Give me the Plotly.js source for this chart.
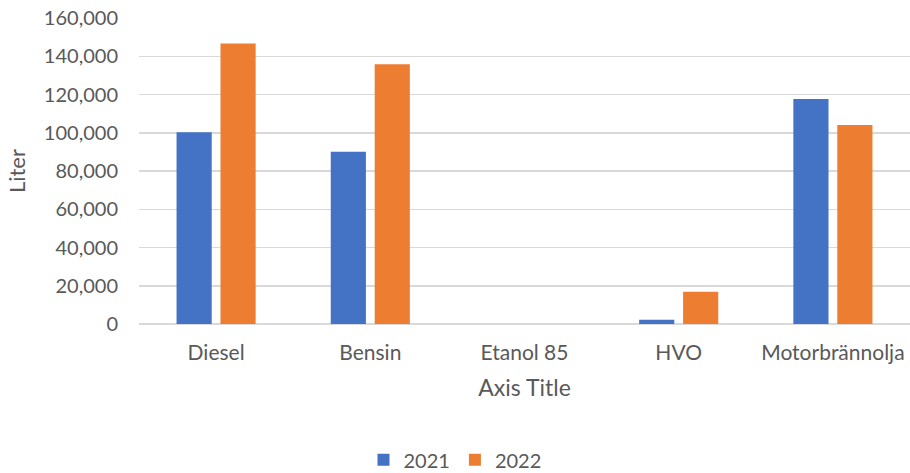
<!DOCTYPE html>
<html>
<head>
<meta charset="utf-8">
<script src="https://cdn.plot.ly/plotly-3.0.1.min.js"></script>
<style>html,body{margin:0;padding:0;background:#fff;}#chart{width:910px;height:473px;}</style>
</head>
<body>
<div id="chart"></div>
<script>
const categories = ["Diesel", "Bensin", "Etanol 85", "HVO", "Motorbrännolja"];
const values2021 = [100300, 90100, 0, 2200, 117600];
const values2022 = [146700, 135800, 0, 16900, 104100];
const seriesNames = ["2021", "2022"];
const yTickVals = [0, 20000, 40000, 60000, 80000, 100000, 120000, 140000, 160000];

const fontFam = "Lato, 'Open Sans', sans-serif";
const txt = "#595959";

const traces = [
  {type: "bar", name: seriesNames[0], x: categories, y: values2021, marker: {color: "#4472C4"}, hoverinfo: "none"},
  {type: "bar", name: seriesNames[1], x: categories, y: values2022, marker: {color: "#ED7D31"}, hoverinfo: "none"}
];

const layout = {
  width: 910, height: 473,
  margin: {l: 139, r: 0, t: 18, b: 149, pad: 0},
  paper_bgcolor: "#fff", plot_bgcolor: "#fff",
  font: {family: fontFam, color: txt, size: 19},
  barmode: "group",
  bargap: 0.43,
  bargroupgap: 0.2,
  showlegend: true,
  legend: {orientation: "h", xref: "container", yref: "container", x: 0.5, xanchor: "center", y: 0.028, yanchor: "middle", font: {size: 20, color: txt}},
  xaxis: {
    type: "category",
    showgrid: false, showline: false, zeroline: false,
    ticks: "", tickfont: {size: 21, color: txt},
    ticklabelstandoff: 14,
    title: {text: "Axis Title", font: {size: 23, color: txt}, standoff: 16}
  },
  yaxis: {
    range: [0, 160000],
    tickvals: yTickVals,
    tickformat: ",d",
    showgrid: true, gridcolor: "#d9d9d9", gridwidth: 1.5,
    zeroline: true, zerolinecolor: "#d9d9d9", zerolinewidth: 1.5,
    showline: false, ticks: "",
    ticklabelstandoff: 20,
    tickfont: {size: 20, color: txt},
    title: {text: "Liter", font: {size: 22, color: txt}, standoff: 12}
  }
};

Plotly.newPlot("chart", traces, layout, {displayModeBar: false, staticPlot: true});
</script>
</body>
</html>
